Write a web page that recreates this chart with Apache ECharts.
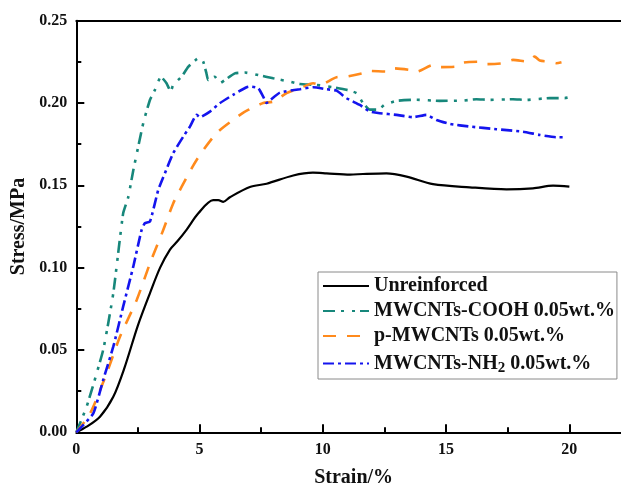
<!DOCTYPE html>
<html>
<head>
<meta charset="utf-8">
<script src="https://cdn.jsdelivr.net/npm/echarts@6/dist/echarts.min.js"></script>
<style>html,body{margin:0;padding:0;background:#fff;}#c{width:621px;height:489px;}</style>
</head>
<body>
<div id="c"></div>
<script>
var seriesNames = ['Unreinforced', 'MWCNTs-COOH 0.05wt.%', 'p-MWCNTs 0.05wt.%', 'MWCNTs-NH2 0.05wt.%'];
var xTicks = [0, 5, 10, 15, 20];
var yTicks = [0.00, 0.05, 0.10, 0.15, 0.20, 0.25];

var unrStrain = [0,0.42,0.96,1.5,1.95,2.5,3.0,3.4,3.8,4.1,4.47,4.95,5.55,5.76,5.96,6.23,7.04,7.72,8.8,9.6,10.15,11.1,11.63,12.58,13.4,14.47,15.96,17.45,18.52,19.34,20.0];
var unrStress = [0,0.0034,0.0095,0.0216,0.039,0.065,0.085,0.100,0.111,0.116,0.123,0.133,0.141,0.141,0.140,0.1428,0.149,0.151,0.156,0.1577,0.1573,0.1565,0.1569,0.1573,0.1553,0.1507,0.1488,0.1476,0.1482,0.1498,0.1492];

var coohStrain = [0,0.42,1.09,1.5,1.9,2.11,2.31,2.72,2.99,3.19,3.43,3.66,3.83,3.93,4.27,4.54,4.88,5.01,5.15,5.28,5.35,5.62,5.82,6.03,6.43,6.84,7.38,7.99,8.66,9.07,9.74,10.42,10.96,11.37,11.63,11.9,12.24,12.51,12.99,13.8,14.74,15.69,16.23,16.77,17.71,18.26,19.2,19.81,20.0];
var coohStress = [0,0.0156,0.050,0.0844,0.133,0.143,0.159,0.188,0.202,0.208,0.216,0.212,0.207,0.211,0.216,0.222,0.2266,0.2278,0.225,0.218,0.214,0.216,0.212,0.214,0.218,0.2185,0.217,0.215,0.213,0.2116,0.211,0.2096,0.208,0.206,0.200,0.196,0.196,0.199,0.2013,0.202,0.2013,0.2015,0.2023,0.2019,0.2023,0.2019,0.203,0.203,0.2035];

var pStrain = [0,0.56,1.23,1.77,2.45,2.99,3.53,3.93,4.27,4.88,5.69,6.64,6.97,7.58,7.99,8.53,9.07,9.61,9.88,10.56,10.96,11.63,11.9,12.58,12.85,13.53,13.8,14.47,14.74,15.42,15.69,16.36,16.64,17.31,17.71,18.32,18.59,18.8,19.27,19.47,19.68];
var pStress = [0,0.0115,0.0358,0.058,0.0804,0.1027,0.123,0.139,0.149,0.1654,0.1817,0.1928,0.1958,0.2,0.2009,0.206,0.209,0.212,0.211,0.2157,0.216,0.2181,0.2195,0.2191,0.2211,0.2201,0.2191,0.2231,0.2218,0.2221,0.2245,0.2251,0.2236,0.2242,0.2262,0.2251,0.2282,0.2258,0.2251,0.2242,0.2248];

var nh2Strain = [0,0.69,1.09,1.5,1.9,2.31,2.65,2.78,2.99,3.32,3.53,3.93,4.34,4.61,4.88,5.01,5.42,5.82,6.36,6.91,7.04,7.38,7.58,7.72,7.85,8.26,9.07,9.61,10.15,10.56,10.96,11.5,11.9,12.31,12.99,13.66,14.2,14.61,15.15,15.96,17.04,18.12,18.8,19.47,19.88];
var nh2Stress = [0,0.0115,0.0318,0.052,0.0763,0.1006,0.123,0.127,0.128,0.147,0.155,0.1695,0.1796,0.1857,0.1928,0.1914,0.1948,0.1999,0.205,0.2096,0.21,0.209,0.2039,0.200,0.2015,0.2063,0.2084,0.2096,0.2084,0.2075,0.2029,0.1988,0.1948,0.1938,0.1928,0.1914,0.1928,0.1897,0.1873,0.1857,0.1841,0.1826,0.1806,0.1792,0.1792];

function pairs(xs, ys) { return xs.map(function (x, i) { return [x, ys[i]]; }); }

var FONT = '"Liberation Serif", "Times New Roman", serif';
var chart = echarts.init(document.getElementById('c'), null, { renderer: 'canvas' });

function mkSeries(name, xs, ys, color, type, width, smooth) {
  return {
    name: name, type: 'line', data: pairs(xs, ys),
    showSymbol: false, symbol: 'none', smooth: smooth,
    lineStyle: { color: color, width: width, type: type, cap: 'butt' },
    itemStyle: { color: color }
  };
}

chart.setOption({
  animation: false,
  backgroundColor: '#fff',
  grid: { left: 76.3, top: 20.7, right: -10, bottom: 56.7, containLabel: false, outerBoundsMode: 'none' },
  legend: {
    orient: 'vertical', left: 318, top: 272,
    backgroundColor: '#fff',
    borderColor: '#8a8a8a', borderWidth: 1,
    padding: [4, 2, 3, 4], itemGap: 5,
    itemWidth: 46, itemHeight: 14,
    icon: 'inherit',
    itemStyle: { opacity: 0 },
    data: seriesNames,
    textStyle: {
      fontFamily: FONT, fontWeight: 'bold', fontSize: 20, color: '#111', lineHeight: 20,
      rich: {
        n: { fontFamily: FONT, fontWeight: 'bold', fontSize: 20, color: '#111', lineHeight: 20 },
        sub: { fontFamily: FONT, fontWeight: 'bold', fontSize: 15, color: '#111', lineHeight: 20, padding: [10, 0, 0, 0] }
      }
    },
    formatter: function (name) {
      if (name.indexOf('NH2') >= 0) {
        return '{n|MWCNTs-NH}{sub|2}{n| 0.05wt.%}';
      }
      return name;
    }
  },
  xAxis: [{
    type: 'value', min: 0, max: 22.5, interval: 5,
    name: 'Strain/%', nameLocation: 'middle', nameGap: 36,
    nameTextStyle: { fontFamily: FONT, fontWeight: 'bold', fontSize: 20, color: '#111' },
    axisLine: { show: true, onZero: false, lineStyle: { color: '#000', width: 2 } },
    axisTick: { show: true, inside: true, length: 8, lineStyle: { color: '#000', width: 2 } },
    minorTick: { show: true, splitNumber: 2, length: 5, lineStyle: { color: '#000', width: 2 } },
    axisLabel: { fontFamily: FONT, fontWeight: 'bold', fontSize: 16, color: '#111', margin: 10, showMaxLabel: false,
      formatter: function (v) { return xTicks.indexOf(v) >= 0 ? String(v) : ''; } },
    splitLine: { show: false }
  }, {
    type: 'value', min: 0, max: 22.5, position: 'top',
    axisLine: { show: true, onZero: false, lineStyle: { color: '#000', width: 2 } },
    axisTick: { show: false }, axisLabel: { show: false }, splitLine: { show: false }
  }],
  yAxis: {
    type: 'value', min: 0, max: 0.25, interval: 0.05,
    name: 'Stress/MPa', nameLocation: 'middle', nameGap: 42,
    nameTextStyle: { fontFamily: FONT, fontWeight: 'bold', fontSize: 20, color: '#111' },
    axisLine: { show: true, onZero: false, lineStyle: { color: '#000', width: 2 } },
    axisTick: { show: true, inside: true, length: 8, lineStyle: { color: '#000', width: 2 } },
    minorTick: { show: true, splitNumber: 2, length: 5, lineStyle: { color: '#000', width: 2 } },
    axisLabel: { fontFamily: FONT, fontWeight: 'bold', fontSize: 16, color: '#111', margin: 9,
      formatter: function (v) { return v.toFixed(2); } },
    splitLine: { show: false }
  },
  series: [
    mkSeries(seriesNames[0], unrStrain, unrStress, '#000000', 'solid', 2.2, 0.3),
    mkSeries(seriesNames[1], coohStrain, coohStress, '#17877b', [12, 6, 3, 8, 3, 5], 2.6, 0.15),
    mkSeries(seriesNames[2], pStrain, pStress, '#ff8a1c', [13, 11], 2.6, 0.25),
    mkSeries(seriesNames[3], nh2Strain, nh2Stress, '#1414ee', [11, 4, 3, 4], 2.6, 0.15)
  ]
});
</script>
</body>
</html>
